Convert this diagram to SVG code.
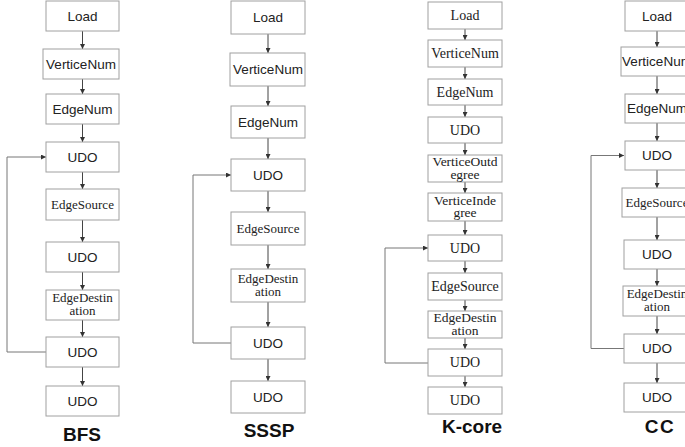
<svg xmlns="http://www.w3.org/2000/svg" width="685" height="447" viewBox="0 0 685 447">
<style>
.box{fill:#fff;stroke:#a0a0a0;stroke-width:1}
.s{font-family:"Liberation Sans",Arial,sans-serif;font-size:13.5px;fill:#222;text-anchor:middle}
.t{font-family:"Liberation Serif","Times New Roman",serif;font-size:13px;fill:#222;text-anchor:middle}
.k{font-family:"Liberation Serif","Times New Roman",serif;font-size:14px;fill:#222;text-anchor:middle}
.k2{font-family:"Liberation Serif","Times New Roman",serif;font-size:13.5px;fill:#222;text-anchor:middle}
.lbl{font-family:"Liberation Sans",Arial,sans-serif;font-size:19px;font-weight:bold;fill:#111;text-anchor:middle}
.c{fill:none;stroke:#444;stroke-width:1}
.loop{fill:none;stroke:#777;stroke-width:1}
</style>
<defs>
<marker id="ah" viewBox="0 0 6 6" refX="6" refY="3" markerWidth="5" markerHeight="5" markerUnits="userSpaceOnUse" orient="auto">
<path d="M0,0 L6,3 L0,6 z" fill="#333"/>
</marker>
</defs>
<rect width="685" height="447" fill="#fff"/>

<g id="connectors">
<!-- BFS -->
<path class="c" marker-end="url(#ah)" d="M82.5,31 V49"/>
<path class="c" marker-end="url(#ah)" d="M82.5,79 V94"/>
<path class="c" marker-end="url(#ah)" d="M82.5,124 V142"/>
<path class="c" marker-end="url(#ah)" d="M82.5,172 V189"/>
<path class="c" marker-end="url(#ah)" d="M82.5,220 V242"/>
<path class="c" marker-end="url(#ah)" d="M82.5,272 V290"/>
<path class="c" marker-end="url(#ah)" d="M82.5,320 V337"/>
<path class="c" marker-end="url(#ah)" d="M82.5,367 V386"/>
<path class="loop" marker-end="url(#ah)" d="M46,352 H7 V157 H46"/>
<!-- SSSP -->
<path class="c" marker-end="url(#ah)" d="M268,34 V53"/>
<path class="c" marker-end="url(#ah)" d="M268,86 V106"/>
<path class="c" marker-end="url(#ah)" d="M268,138 V159"/>
<path class="c" marker-end="url(#ah)" d="M268,191 V212"/>
<path class="c" marker-end="url(#ah)" d="M268,245 V269"/>
<path class="c" marker-end="url(#ah)" d="M268,302 V327"/>
<path class="c" marker-end="url(#ah)" d="M268,359 V381"/>
<path class="loop" marker-end="url(#ah)" d="M231,343 H193 V175 H231"/>
<!-- K-core -->
<path class="c" marker-end="url(#ah)" d="M465,29 V40"/>
<path class="c" marker-end="url(#ah)" d="M465,67 V79"/>
<path class="c" marker-end="url(#ah)" d="M465,105 V117"/>
<path class="c" marker-end="url(#ah)" d="M465,143 V155"/>
<path class="c" marker-end="url(#ah)" d="M465,182 V193"/>
<path class="c" marker-end="url(#ah)" d="M465,221 V235"/>
<path class="c" marker-end="url(#ah)" d="M465,261 V273"/>
<path class="c" marker-end="url(#ah)" d="M465,300 V311"/>
<path class="c" marker-end="url(#ah)" d="M465,338 V349"/>
<path class="c" marker-end="url(#ah)" d="M465,376 V387"/>
<path class="loop" marker-end="url(#ah)" d="M428,363 H385 V248 H428"/>
<!-- CC -->
<path class="c" marker-end="url(#ah)" d="M657,31 V47"/>
<path class="c" marker-end="url(#ah)" d="M657,76 V94"/>
<path class="c" marker-end="url(#ah)" d="M657,123 V141"/>
<path class="c" marker-end="url(#ah)" d="M657,170 V188"/>
<path class="c" marker-end="url(#ah)" d="M657,217 V240"/>
<path class="c" marker-end="url(#ah)" d="M657,269 V286"/>
<path class="c" marker-end="url(#ah)" d="M657,316 V334"/>
<path class="c" marker-end="url(#ah)" d="M657,363 V383"/>
<path class="loop" marker-end="url(#ah)" d="M624,348.5 H591 V155.5 H624"/>
</g>

<!-- BFS -->
<g id="bfs-load"><rect class="box" x="46" y="1" width="73" height="30"/><text class="s" x="82.5" y="20.5">Load</text></g>
<g id="bfs-verticenum"><rect class="box" x="43" y="49" width="76" height="30"/><text class="s" x="81" y="68.5">VerticeNum</text></g>
<g id="bfs-edgenum"><rect class="box" x="46" y="94" width="73" height="30"/><text class="s" x="82.5" y="113.5">EdgeNum</text></g>
<g id="bfs-udo1"><rect class="box" x="46" y="142" width="73" height="30"/><text class="s" x="82.5" y="161.5">UDO</text></g>
<g id="bfs-edgesource"><rect class="box" x="46" y="189" width="73" height="31"/><text class="t" x="82.5" y="209">EdgeSource</text></g>
<g id="bfs-udo2"><rect class="box" x="46" y="242" width="73" height="30"/><text class="s" x="82.5" y="261.5">UDO</text></g>
<g id="bfs-edgedest"><rect class="box" x="46" y="290" width="73" height="30"/><text class="t" x="82.5" y="302">EdgeDestin<tspan x="82.5" dy="12.5">ation</tspan></text></g>
<g id="bfs-udo3"><rect class="box" x="46" y="337" width="73" height="30"/><text class="s" x="82.5" y="356.5">UDO</text></g>
<g id="bfs-udo4"><rect class="box" x="46" y="386" width="73" height="30"/><text class="s" x="82.5" y="405.5">UDO</text></g>
<g id="bfs-label"><text class="lbl" x="82" y="441">BFS</text></g>

<!-- SSSP -->
<g id="sssp-load"><rect class="box" x="231" y="1" width="74" height="33"/><text class="s" x="268" y="22">Load</text></g>
<g id="sssp-verticenum"><rect class="box" x="230" y="53" width="75" height="33"/><text class="s" x="268" y="74">VerticeNum</text></g>
<g id="sssp-edgenum"><rect class="box" x="231" y="106" width="74" height="32"/><text class="s" x="268" y="126.5">EdgeNum</text></g>
<g id="sssp-udo1"><rect class="box" x="231" y="159" width="74" height="32"/><text class="s" x="268" y="179.5">UDO</text></g>
<g id="sssp-edgesource"><rect class="box" x="231" y="212" width="74" height="33"/><text class="t" x="268" y="233">EdgeSource</text></g>
<g id="sssp-edgedest"><rect class="box" x="231" y="269" width="74" height="33"/><text class="t" x="268" y="282.5">EdgeDestin<tspan x="268" dy="13">ation</tspan></text></g>
<g id="sssp-udo2"><rect class="box" x="231" y="327" width="74" height="32"/><text class="s" x="268" y="347.5">UDO</text></g>
<g id="sssp-udo3"><rect class="box" x="231" y="381" width="74" height="32"/><text class="s" x="268" y="401.5">UDO</text></g>
<g id="sssp-label"><text class="lbl" x="269" y="437">SSSP</text></g>

<!-- K-core -->
<g id="kc-load"><rect class="box" x="428" y="2" width="74" height="27"/><text class="k" x="465" y="20">Load</text></g>
<g id="kc-verticenum"><rect class="box" x="428" y="40" width="74" height="27"/><text class="k" x="465" y="58">VerticeNum</text></g>
<g id="kc-edgenum"><rect class="box" x="428" y="79" width="74" height="26"/><text class="k" x="465" y="96.5">EdgeNum</text></g>
<g id="kc-udo1"><rect class="box" x="428" y="117" width="74" height="26"/><text class="k" x="465" y="134.5">UDO</text></g>
<g id="kc-verticeoutdegree"><rect class="box" x="428" y="155" width="74" height="27"/><text class="k2" x="465" y="166">VerticeOutd<tspan x="465" dy="12.5">egree</tspan></text></g>
<g id="kc-verticeindegree"><rect class="box" x="428" y="193" width="74" height="28"/><text class="k2" x="465" y="204.5">VerticeInde<tspan x="465" dy="12.5">gree</tspan></text></g>
<g id="kc-udo2"><rect class="box" x="428" y="235" width="74" height="26"/><text class="k" x="465" y="252.5">UDO</text></g>
<g id="kc-edgesource"><rect class="box" x="428" y="273" width="74" height="27"/><text class="k" x="465" y="291">EdgeSource</text></g>
<g id="kc-edgedest"><rect class="box" x="428" y="311" width="74" height="27"/><text class="k2" x="465" y="322">EdgeDestin<tspan x="465" dy="12.5">ation</tspan></text></g>
<g id="kc-udo3"><rect class="box" x="428" y="349" width="74" height="27"/><text class="k" x="465" y="367">UDO</text></g>
<g id="kc-udo4"><rect class="box" x="428" y="387" width="74" height="27"/><text class="k" x="465" y="405">UDO</text></g>
<g id="kc-label"><text class="lbl" x="472" y="433">K-core</text></g>

<!-- CC -->
<g id="cc-load"><rect class="box" x="625" y="1" width="72" height="30"/><text class="s" x="657" y="20.5">Load</text></g>
<g id="cc-verticenum"><rect class="box" x="621" y="47" width="76" height="29"/><text class="s" x="657" y="66">VerticeNum</text></g>
<g id="cc-edgenum"><rect class="box" x="625" y="94" width="72" height="29"/><text class="s" x="657" y="113">EdgeNum</text></g>
<g id="cc-udo1"><rect class="box" x="625" y="141" width="72" height="29"/><text class="s" x="657" y="160">UDO</text></g>
<g id="cc-edgesource"><rect class="box" x="622" y="188" width="75" height="29"/><text class="t" x="657" y="207">EdgeSource</text></g>
<g id="cc-udo2"><rect class="box" x="624" y="240" width="73" height="29"/><text class="s" x="657" y="259">UDO</text></g>
<g id="cc-edgedest"><rect class="box" x="623" y="286" width="74" height="30"/><text class="t" x="657" y="298">EdgeDestin<tspan x="657" dy="12.5">ation</tspan></text></g>
<g id="cc-udo3"><rect class="box" x="624" y="334" width="73" height="29"/><text class="s" x="657" y="353">UDO</text></g>
<g id="cc-udo4"><rect class="box" x="624" y="383" width="73" height="29"/><text class="s" x="657" y="402">UDO</text></g>
<g id="cc-label"><text class="lbl" x="660" y="433" letter-spacing="1.5">CC</text></g>
</svg>
